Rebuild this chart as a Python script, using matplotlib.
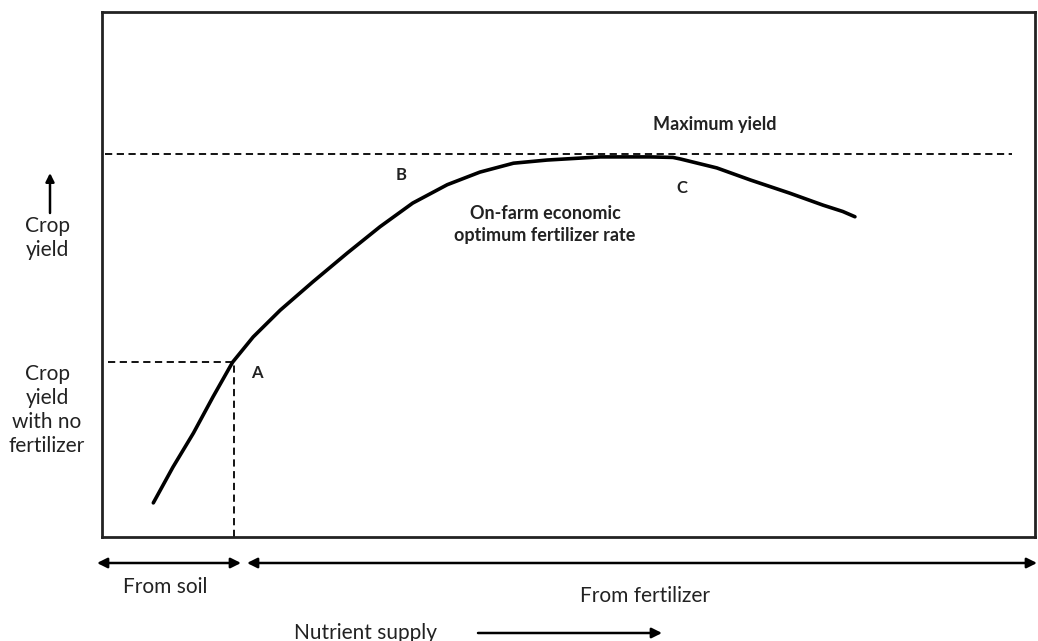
import matplotlib
matplotlib.use("Agg")
import matplotlib.pyplot as plt

# Nutrient supply (0-100) vs crop yield (0-100)
nutrient = [5.5, 7.6, 9.8, 11.9, 14.0, 16.2, 19.1, 22.6, 26.3, 29.8, 33.3,
            37.0, 40.5, 44.1, 47.7, 53.4, 58.7, 61.2, 62.0, 65.9, 69.5,
            73.7, 77.3, 79.4, 80.7]
yield_ = [6.5, 13.3, 19.8, 26.7, 33.3, 38.1, 43.2, 48.6, 54.1, 59.1, 63.6,
          67.1, 69.5, 71.2, 71.8, 72.4, 72.4, 72.3, 72.0, 70.3, 68.0,
          65.5, 63.2, 62.0, 61.0]
max_yield = 73.0
point_a = (14.2, 33.4)
labels = {"A": (16.6, 31.2), "B": (32.1, 69.0), "C": (62.2, 66.5)}

plt.rcParams['font.family'] = ['Lato', 'DejaVu Sans']
W, H = 1038, 641
fig = plt.figure(figsize=(W / 100, H / 100), dpi=100)
L, R, T, B = 102, 1035, 12, 537
ax = fig.add_axes([L / W, 1 - B / H, (R - L) / W, (B - T) / H])
ax.set_xlim(0, 100)
ax.set_ylim(0, 100)
ax.set_xticks([])
ax.set_yticks([])
for s in ax.spines.values():
    s.set_linewidth(2)
    s.set_color('#222222')

ax.plot(nutrient, yield_, color='black', lw=2.6, solid_capstyle='round',
        solid_joinstyle='round')
ax.plot([0.3, 97.5], [max_yield, max_yield], color='black', lw=1.3, ls=(0, (4, 2.5)))
ax.plot([0.6, point_a[0]], [point_a[1], point_a[1]], color='black', lw=1.3, ls=(0, (4, 2.5)))
ax.plot([point_a[0], point_a[0]], [0, point_a[1]], color='black', lw=1.3, ls=(0, (4, 2.5)))

for k, (x, y) in labels.items():
    ax.text(x, y, k, fontsize=12, fontweight='bold', ha='center', va='center',
            color='#222222')

ax.text(65.7, 78.6, "Maximum yield", fontsize=13, fontweight='bold', ha='center',
        va='center', color='#222222')
ax.text(47.5, 59.5, "On-farm economic\noptimum fertilizer rate", fontsize=13,
        fontweight='bold', ha='center', va='center', linespacing=1.35, color='#222222')


def fx(px):
    return px / W


def fy(py):
    return 1 - py / H


fs = 15
fig.text(fx(47), fy(238), "Crop\nyield", fontsize=fs, ha='center', va='center',
         linespacing=1.22, color='#222222')
fig.text(fx(47), fy(410), "Crop\nyield\nwith no\nfertilizer", fontsize=fs, ha='center',
         va='center', linespacing=1.24, color='#222222')
fig.text(fx(165), fy(587), "From soil", fontsize=fs, ha='center', va='center', color='#222222')
fig.text(fx(645), fy(596), "From fertilizer", fontsize=fs, ha='center', va='center', color='#222222')
fig.text(fx(365), fy(633), "Nutrient supply", fontsize=fs, ha='center', va='center', color='#222222')

arrow_kw = dict(color='black', lw=1.8, shrinkA=0, shrinkB=0)
fig.add_artist(matplotlib.patches.FancyArrowPatch(
    (fx(50), fy(213)), (fx(50), fy(173)), transform=fig.transFigure,
    arrowstyle='-|>,head_length=5,head_width=2.5', **arrow_kw))
fig.add_artist(matplotlib.patches.FancyArrowPatch(
    (fx(97), fy(563)), (fx(241), fy(563)), transform=fig.transFigure,
    arrowstyle='<|-|>,head_length=6,head_width=3', **arrow_kw))
fig.add_artist(matplotlib.patches.FancyArrowPatch(
    (fx(247), fy(563)), (fx(1037), fy(563)), transform=fig.transFigure,
    arrowstyle='<|-|>,head_length=6,head_width=3', **arrow_kw))
fig.add_artist(matplotlib.patches.FancyArrowPatch(
    (fx(478), fy(633)), (fx(662), fy(633)), transform=fig.transFigure,
    arrowstyle='-|>,head_length=6,head_width=3', **arrow_kw))

fig.savefig("out.png", dpi=100)
